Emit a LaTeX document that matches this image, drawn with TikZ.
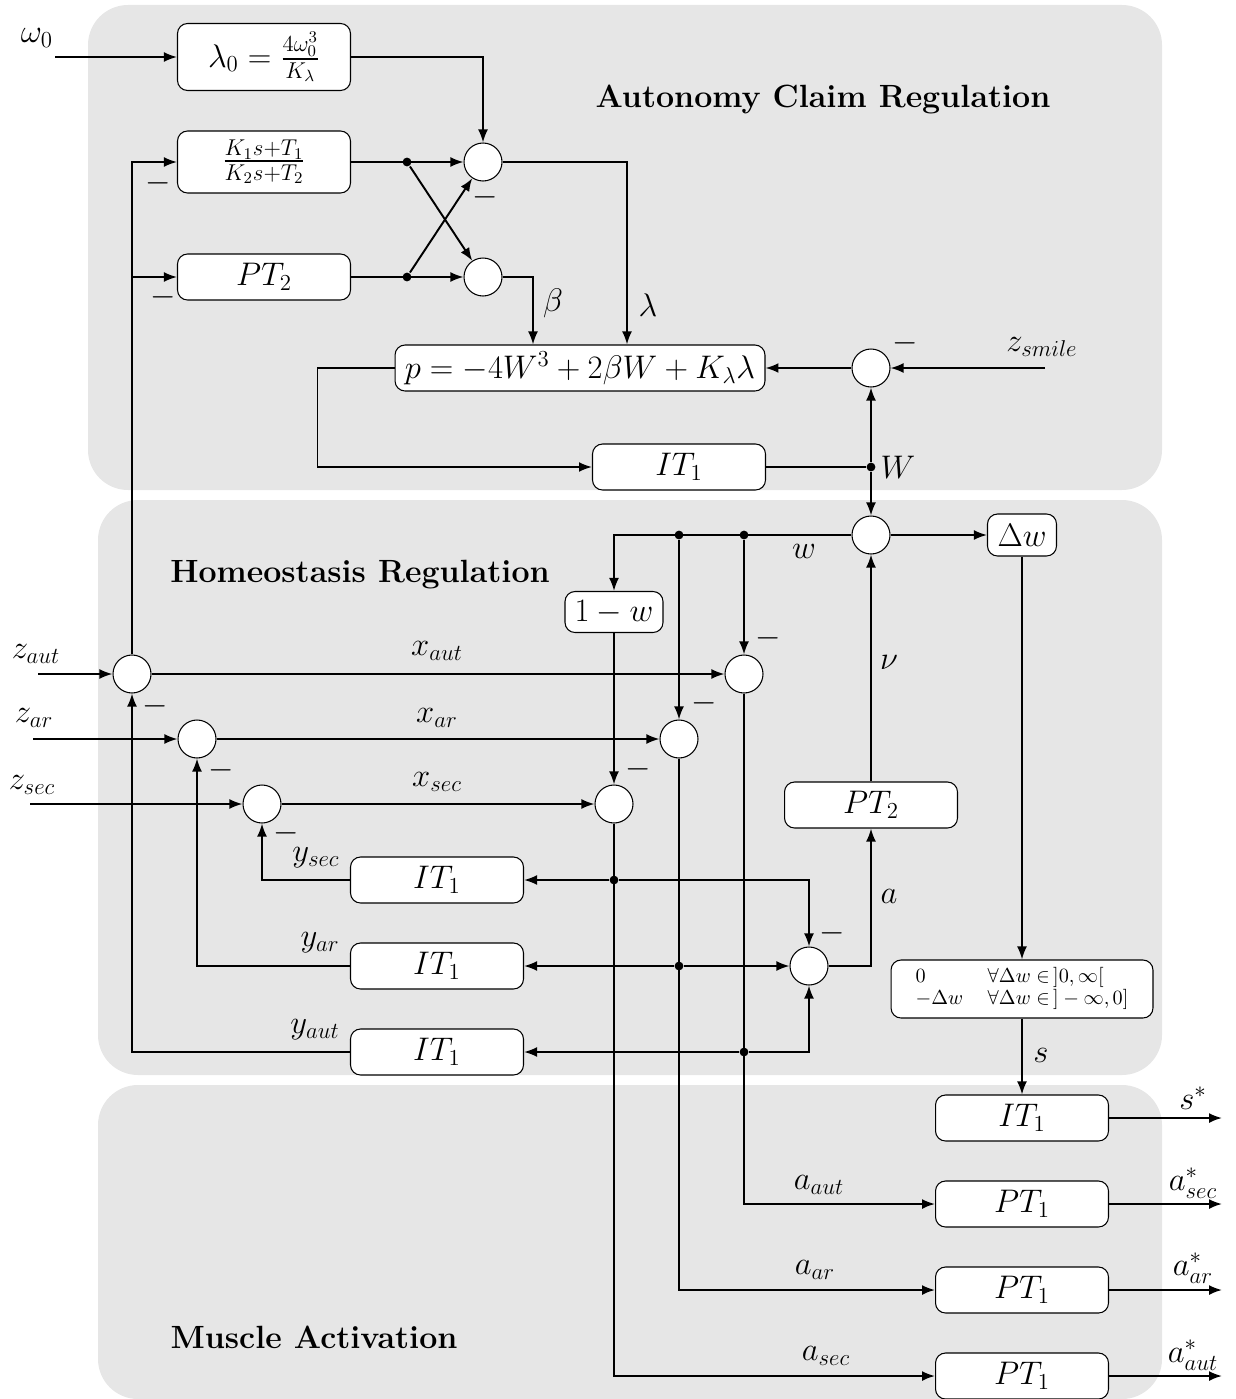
\documentclass[tikz,border=0pt]{standalone}
\usepackage{fix-cm}
\usepackage{amsmath,amssymb}
\usetikzlibrary{arrows.meta, positioning, calc}
\definecolor{panelgray}{HTML}{E6E6E6}
\newcommand{\diafont}{\fontsize{18.6}{22}\selectfont}

\begin{document}
\begin{tikzpicture}[x=0.02cm, y=-0.02cm, >={Latex[length=2.6mm, width=2mm]}, line width=1.1pt,
  block/.style={draw, fill=white, line width=0.6pt, rounded corners=0.2cm,
                minimum width=3.46cm, minimum height=0.92cm, font=\diafont,
                align=center, inner sep=2pt},
  sumnode/.style={circle, draw, fill=white, line width=0.6pt, minimum size=0.76cm, inner sep=0pt},
  dot/.style={circle, fill, inner sep=0pt, minimum size=5pt},
  sig/.style={font=\diafont, inner sep=1pt},
  title/.style={font=\fontsize{18.3}{22}\selectfont\bfseries}]

\useasboundingbox (0,0) rectangle (1236,1399);

% Background panels
\fill[panelgray, rounded corners=0.8cm] (88,5) rectangle (1162,490);
\fill[panelgray, rounded corners=0.8cm] (98,500) rectangle (1162,1075);
\fill[panelgray, rounded corners=0.8cm] (98,1085) rectangle (1162,1399);

% Titles
\node[title] at (823,99) {Autonomy Claim Regulation};
\node[title] at (360,575) {Homeostasis Regulation};
\node[title] at (314,1337) {Muscle Activation};

% =========== AUTONOMY CLAIM ===========
\node[block, minimum height=1.34cm] (lamzero) at (264,57) {$\lambda_0 = \frac{4\omega_0^3}{K_\lambda}$};
\node[block, minimum height=1.24cm] (lead) at (264,162) {$\frac{K_1 s+T_1}{K_2 s+T_2}$};
\node[block] (pttwo) at (264,277) {$PT_2$};
\node[sumnode] (sumLam) at (483,162) {};
\node[sumnode] (sumBeta) at (483,277) {};
\node[dot] (jLead) at (407,162) {};
\node[dot] (jPt) at (407,277) {};
\node[block, minimum width=7.4cm] (poly) at (580,368) {$p = -4W^3 + 2\beta W + K_\lambda\lambda$};
\node[sumnode] (sumSmile) at (871,368) {};
\node[block] (itW) at (679,467) {$IT_1$};
\node[dot] (jW) at (871,467) {};

\coordinate (omegain) at (55,57);
\coordinate (smilein) at (1045,368);
\coordinate (betacol) at (533,0);
\coordinate (lamcol) at (627,0);

\draw[->] (omegain) -- (lamzero);
\draw[->] (lamzero.east) -| (sumLam.north);
\draw[->] (lead) -- (sumLam);
\draw[->] (pttwo) -- (sumBeta);
\draw[->] (jLead) -- (sumBeta);
\draw[->] (jPt) -- (sumLam);
\draw[->] (sumLam.east) -| (poly.north -| lamcol);
\draw[->] (sumBeta.east) -| (poly.north -| betacol);
\draw[->] (smilein) -- (sumSmile.east);
\draw[->] (sumSmile.west) -- (poly.east);
\draw[->] (poly.west) -- ++(-77,0) |- (itW.west);
\draw (itW.east) -- (jW);
\draw[->] (jW) -- (sumSmile.south);

\node[sig] at (37,38) {$\omega_0$};
\node[sig] at (553,303) {$\beta$};
\node[sig] at (648,305) {$\lambda$};
\node[sig] at (1042,347) {$z_{smile}$};
\node[sig] at (898,467) {$W$};
\node[sig] at (158,183) {$-$};
\node[sig] at (163,297) {$-$};
\node[sig] at (485,197) {$-$};
\node[sig] at (905,343) {$-$};

% =========== HOMEOSTASIS ===========
\node[sumnode] (sumW) at (871,535) {};
\node[block, minimum width=1.38cm, minimum height=0.84cm] (dw) at (1022,535) {$\Delta w$};
\node[block, minimum width=1.96cm, minimum height=0.82cm] (onemw) at (614,612) {$1-w$};
\node[dot] (jwAut) at (744,535) {};
\node[dot] (jwAr) at (679,535) {};

\node[sumnode] (sumAut) at (132,674) {};
\node[sumnode] (sumAr) at (197,739) {};
\node[sumnode] (sumSec) at (262,804) {};
\node[sumnode] (subAut) at (744,674) {};
\node[sumnode] (subAr) at (679,739) {};
\node[sumnode] (subSec) at (614,804) {};

\node[block] (ptnu) at (871,805) {$PT_2$};
\node[block] (itSec) at (437,880) {$IT_1$};
\node[block] (itAr) at (437,966) {$IT_1$};
\node[block] (itAut) at (437,1052) {$IT_1$};
\node[dot] (jSec) at (614,880) {};
\node[dot] (jAr) at (679,966) {};
\node[dot] (jAut) at (744,1052) {};
\node[sumnode] (sumA) at (809,966) {};
\node[block, minimum width=5.24cm, minimum height=1.16cm, font=\fontsize{11.5}{12.5}\selectfont] (sat) at (1022,989)
  {$\begin{array}{@{}l@{\hspace{14pt}}l@{}}
     0 & \forall \Delta w \in \,]0,\infty[ \\
     -\Delta w & \forall \Delta w \in \,]-\infty,0]
   \end{array}$};

\coordinate (autin) at (38,674);
\coordinate (arin) at (33,739);
\coordinate (secin) at (30,804);

\draw[->] (jW) -- (sumW.north);
\draw[->] (sumW.east) -- (dw.west);
\draw[->] (sumW.west) -| (onemw.north);
\draw[->] (jwAut) -- (subAut.north);
\draw[->] (jwAr) -- (subAr.north);
\draw[->] (onemw.south) -- (subSec.north);

\draw[->] (autin) -- (sumAut.west);
\draw[->] (arin) -- (sumAr.west);
\draw[->] (secin) -- (sumSec.west);
\draw[->] (sumAut.east) -- (subAut.west);
\draw[->] (sumAr.east) -- (subAr.west);
\draw[->] (sumSec.east) -- (subSec.west);
\draw[->] (sumAut.north) |- (lead.west);
\draw[->] (sumAut.north |- pttwo) -- (pttwo.west);

\draw[->] (itSec.west) -| (sumSec.south);
\draw[->] (itAr.west) -| (sumAr.south);
\draw[->] (itAut.west) -| (sumAut.south);
\draw[->] (jSec) -- (itSec.east);
\draw[->] (jAr) -- (itAr.east);
\draw[->] (jAut) -- (itAut.east);
\draw[->] (jSec) -| (sumA.north);
\draw[->] (jAr) -- (sumA.west);
\draw[->] (jAut) -| (sumA.south);

\draw[->] (sumA.east) -| (ptnu.south);
\draw[->] (ptnu.north) -- (sumW.south);
\draw[->] (dw.south) -- (sat.north);

\node[sig] at (804,551) {$w$};
\node[sig] at (36,654) {$z_{aut}$};
\node[sig] at (34,718) {$z_{ar}$};
\node[sig] at (32,785) {$z_{sec}$};
\node[sig] at (437,651) {$x_{aut}$};
\node[sig] at (437,718) {$x_{ar}$};
\node[sig] at (437,782) {$x_{sec}$};
\node[sig] at (316,858) {$y_{sec}$};
\node[sig] at (320,943) {$y_{ar}$};
\node[sig] at (315,1030) {$y_{aut}$};
\node[sig] at (889,662) {$\nu$};
\node[sig] at (889,896) {$a$};
\node[sig] at (768,638) {$-$};
\node[sig] at (704,703) {$-$};
\node[sig] at (638,769) {$-$};
\node[sig] at (155,706) {$-$};
\node[sig] at (221,770) {$-$};
\node[sig] at (286,833) {$-$};
\node[sig] at (832,933) {$-$};

% =========== MUSCLE ACTIVATION ===========
\node[block] (itS) at (1022,1118) {$IT_1$};
\node[block] (ptAut) at (1022,1204) {$PT_1$};
\node[block] (ptAr) at (1022,1290) {$PT_1$};
\node[block] (ptSec) at (1022,1376) {$PT_1$};

\coordinate (sout) at (1222,1118);
\coordinate (autout) at (1222,1204);
\coordinate (arout) at (1222,1290);
\coordinate (secout) at (1222,1376);

\draw[->] (sat.south) -- (itS.north);
\draw[->] (subAut.south) |- (ptAut.west);
\draw[->] (subAr.south) |- (ptAr.west);
\draw[->] (subSec.south) |- (ptSec.west);
\draw[->] (itS.east) -- (sout);
\draw[->] (ptAut.east) -- (autout);
\draw[->] (ptAr.east) -- (arout);
\draw[->] (ptSec.east) -- (secout);

\node[sig] at (1041,1055) {$s$};
\node[sig] at (819,1185) {$a_{aut}$};
\node[sig] at (815,1270) {$a_{ar}$};
\node[sig] at (826,1356) {$a_{sec}$};
\node[sig] at (1193,1098) {$s^*$};
\node[sig] at (1193,1183) {$a^*_{sec}$};
\node[sig] at (1193,1268) {$a^*_{ar}$};
\node[sig] at (1193,1355) {$a^*_{aut}$};

\end{tikzpicture}
\end{document}
